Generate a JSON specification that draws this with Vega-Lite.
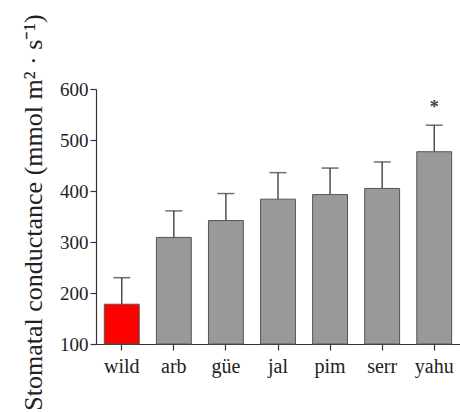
{
  "$schema": "https://vega.github.io/schema/vega-lite/v6.json",
  "autosize": {"type": "none"},
  "padding": {"left": 96, "top": 89, "right": 0, "bottom": 68},
  "width": 364,
  "height": 255,
  "background": "white",
  "config": {"view": {"stroke": null}},
  "data": {
    "values": [
      {"group": "wild", "mean": 178, "upper": 230, "sig": ""},
      {"group": "arb", "mean": 309, "upper": 361, "sig": ""},
      {"group": "güe", "mean": 342, "upper": 395, "sig": ""},
      {"group": "jal", "mean": 384, "upper": 436, "sig": ""},
      {"group": "pim", "mean": 393, "upper": 445, "sig": ""},
      {"group": "serr", "mean": 405, "upper": 457, "sig": ""},
      {"group": "yahu", "mean": 477, "upper": 529, "sig": "*"}
    ]
  },
  "encoding": {
    "x": {
      "field": "group",
      "type": "nominal",
      "sort": null,
      "scale": {"paddingInner": 0.33, "paddingOuter": 0.16},
      "axis": {
        "title": null,
        "labelAngle": 0,
        "labelFont": "Liberation Serif",
        "labelFontSize": 20,
        "labelColor": "#222",
        "labelPadding": 6,
        "tickSize": 6,
        "tickColor": "#333",
        "tickWidth": 1.2,
        "domainColor": "#333",
        "domainWidth": 1.2
      }
    }
  },
  "layer": [
    {
      "mark": {"type": "rule", "color": "#333", "strokeWidth": 1.3},
      "encoding": {
        "y": {"field": "mean", "type": "quantitative"},
        "y2": {"field": "upper"}
      }
    },
    {
      "mark": {"type": "tick", "color": "#333", "size": 17, "thickness": 1.5},
      "encoding": {
        "y": {"field": "upper", "type": "quantitative"}
      }
    },
    {
      "mark": {"type": "bar", "stroke": "#555", "strokeWidth": 1},
      "encoding": {
        "y": {
          "field": "mean",
          "type": "quantitative",
          "scale": {"domain": [100, 600], "zero": false, "nice": false},
          "axis": {
            "title": "Stomatal conductance (mmol m² · s⁻¹)",
            "titleFont": "Liberation Serif",
            "titleFontSize": 26,
            "titleFontWeight": "normal",
            "titleColor": "#222",
            "titleAngle": -90,
            "titleX": -55,
            "titleY": 123,
            "titleAlign": "center",
            "titleBaseline": "alphabetic",
            "values": [100, 200, 300, 400, 500, 600],
            "grid": false,
            "labelFont": "Liberation Serif",
            "labelFontSize": 19,
            "labelColor": "#222",
            "labelPadding": 2,
            "tickSize": 6,
            "tickColor": "#333",
            "tickWidth": 1.2,
            "domainColor": "#333",
            "domainWidth": 1.2
          }
        },
        "y2": {"datum": 100},
        "color": {
          "condition": {"test": "datum.group === 'wild'", "value": "#ff0000"},
          "value": "#999999"
        }
      }
    },
    {
      "transform": [{"filter": "datum.sig !== ''"}],
      "mark": {"type": "text", "font": "Liberation Serif", "fontSize": 18, "fontWeight": "bold", "color": "#444", "baseline": "alphabetic", "dy": -12},
      "encoding": {
        "y": {"field": "upper", "type": "quantitative"},
        "text": {"field": "sig"}
      }
    }
  ]
}
